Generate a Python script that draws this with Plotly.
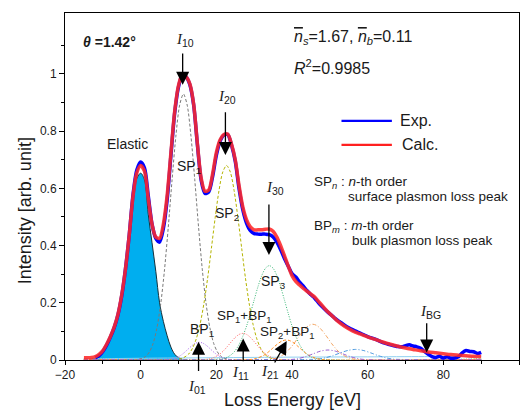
import plotly.graph_objects as go

# ---------------- data ----------------
exp_e = list(range(-12, 91))
exp_i = [0.008, 0.015, 0.03, 0.052, 0.08, 0.113, 0.158, 0.225, 0.32, 0.44, 0.58, 0.665,
         0.692, 0.672, 0.575, 0.475, 0.425, 0.412, 0.46, 0.56, 0.715, 0.865,
         0.955, 0.995, 0.99, 0.962, 0.892, 0.752, 0.628, 0.582, 0.588, 0.64,
         0.715, 0.765, 0.786, 0.788, 0.752, 0.695, 0.60, 0.525, 0.478, 0.452,
         0.442, 0.44, 0.44, 0.44, 0.438, 0.43, 0.412, 0.385, 0.355, 0.328,
         0.302, 0.29, 0.272, 0.258, 0.242, 0.228, 0.216, 0.20, 0.186, 0.173,
         0.161, 0.15, 0.139, 0.13, 0.121, 0.113, 0.106, 0.1, 0.094, 0.088,
         0.082, 0.077, 0.073, 0.067, 0.061, 0.057, 0.053, 0.05, 0.047, 0.046,
         0.05, 0.053, 0.049, 0.046, 0.041, 0.03, 0.02, 0.012, 0.009, 0.013,
         0.007, 0.011, 0.006, 0.007, 0.011, 0.025, 0.033, 0.03, 0.029, 0.023,
         0.027]

calc_e = list(range(-15, 51)) + list(range(52, 91, 2))
calc_i = [0.008, 0.008, 0.009, 0.012, 0.02,
          0.033, 0.055, 0.082, 0.115, 0.16, 0.228, 0.32, 0.44, 0.575, 0.655,
          0.68, 0.66, 0.565, 0.475, 0.43, 0.425, 0.475, 0.575, 0.725, 0.87,
          0.96, 0.998, 0.99, 0.965, 0.895, 0.755, 0.635, 0.59, 0.595, 0.65,
          0.725, 0.77, 0.788, 0.79, 0.755, 0.70, 0.61, 0.535, 0.49, 0.465,
          0.455, 0.455, 0.455, 0.457, 0.458, 0.45, 0.43, 0.40, 0.365, 0.328,
          0.295, 0.275, 0.262, 0.25, 0.24, 0.23, 0.22, 0.205, 0.19, 0.175,
          0.162,
          0.137, 0.117, 0.102, 0.091, 0.081, 0.072, 0.063, 0.055, 0.048, 0.042,
          0.037, 0.032, 0.028, 0.025, 0.022, 0.019, 0.017, 0.015, 0.013, 0.012]

elastic_e = list(range(-13, 12))
elastic_i = [0.003, 0.005, 0.01, 0.025, 0.048, 0.075, 0.105, 0.15, 0.215, 0.31, 0.43, 0.57,
             0.635, 0.653, 0.63, 0.51, 0.41, 0.31, 0.20, 0.135, 0.085, 0.045, 0.02, 0.008, 0.003]

sp1_e = [-15, -0.7, 1.3, 2.3, 3.3, 4.3, 5.3, 6.3, 7.3, 8.3, 9.3, 10.3, 11.3, 12.3, 13.3,
         14.3, 15.3, 16.3, 17.3, 18.3, 19.3, 20.3, 21.3, 23.3, 90]
sp1_i = [0.002, 0.002, 0.012, 0.028, 0.058, 0.112, 0.196, 0.315, 0.465, 0.630, 0.782, 0.891,
         0.93, 0.891, 0.782, 0.630, 0.465, 0.315, 0.196, 0.112, 0.058, 0.028, 0.012, 0.002, 0.002]

sp2_e = [-15, 10.7, 12.7, 13.7, 14.7, 15.7, 16.7, 17.7, 18.7, 19.7, 20.7, 21.7, 22.7, 23.7,
         24.7, 25.7, 26.7, 27.7, 28.7, 29.7, 30.7, 31.7, 32.7, 34.7, 90]
sp2_i = [0.003, 0.005, 0.021, 0.041, 0.074, 0.125, 0.196, 0.286, 0.391, 0.498, 0.592, 0.657,
         0.68, 0.657, 0.592, 0.498, 0.391, 0.286, 0.196, 0.125, 0.074, 0.041, 0.021, 0.005, 0.003]

sp3_e = [-15, 22, 24, 25, 26, 27, 28, 29, 30, 31, 32, 33, 34, 35, 36, 37, 38, 39, 40, 41,
         42, 43, 44, 46, 90]
sp3_i = [0.004, 0.006, 0.019, 0.033, 0.054, 0.083, 0.119, 0.163, 0.210, 0.256, 0.295, 0.321,
         0.33, 0.321, 0.295, 0.256, 0.210, 0.163, 0.119, 0.083, 0.054, 0.033, 0.019, 0.006, 0.004]

sp4_e = [-15, 33.5, 35.5, 37.5, 38.5, 39.5, 40.5, 41.5, 42.5, 43.5, 44.5, 45.5, 46.5, 47.5,
         48.5, 49.5, 50.5, 51.5, 52.5, 53.5, 55.5, 57.5, 90]
sp4_i = [0.002, 0.002, 0.0055, 0.017, 0.027, 0.041, 0.057, 0.076, 0.094, 0.110, 0.121, 0.125,
         0.121, 0.110, 0.094, 0.076, 0.057, 0.041, 0.027, 0.017, 0.0055, 0.002, 0.002]

sp5_e = [-15, 44.8, 46.8, 48.8, 50.8, 52.8, 54.8, 56.8, 58.8, 60.8, 62.8, 64.8, 66.8, 68.8, 90]
sp5_i = [0.002, 0.002, 0.0031, 0.0076, 0.0152, 0.025, 0.0335, 0.037, 0.0335, 0.025, 0.0152,
         0.0076, 0.0031, 0.002, 0.002]

bp1_e = [-15, 7.5, 9.5, 10.5, 11.5, 12.5, 13.5, 14.5, 15.5, 16.5, 17.5, 18.5, 19.5, 20.5,
         21.5, 23.5, 90]
bp1_i = [0.002, 0.002, 0.0084, 0.0154, 0.0255, 0.0376, 0.0496, 0.0587, 0.062, 0.0587, 0.0496,
         0.0376, 0.0255, 0.0154, 0.0084, 0.002, 0.002]

sp1bp1_e = [-15, 17, 19, 21, 22, 23, 24, 25, 26, 27, 28, 29, 30, 31, 32, 33, 35, 37, 90]
sp1bp1_i = [0.0015, 0.0016, 0.0068, 0.0214, 0.0336, 0.0484, 0.0644, 0.079, 0.0893, 0.093,
            0.0893, 0.079, 0.0644, 0.0484, 0.0336, 0.0214, 0.0068, 0.0016, 0.0015]

sp2bp1_e = [-15, 28.5, 30.5, 32.5, 33.5, 34.5, 35.5, 36.5, 37.5, 38.5, 39.5, 40.5, 41.5, 42.5,
            43.5, 44.5, 46.5, 48.5, 90]
sp2bp1_i = [0.001, 0.0012, 0.0051, 0.0161, 0.0253, 0.0365, 0.0484, 0.0594, 0.0672, 0.07,
            0.0672, 0.0594, 0.0484, 0.0365, 0.0253, 0.0161, 0.0051, 0.0012, 0.001]

sp3bp1_e = [-15, 39.5, 41.5, 43.5, 45.5, 47.5, 49.5, 51.5, 53.5, 55.5, 57.5, 59.5, 90]
sp3bp1_i = [0.001, 0.0015, 0.0047, 0.0114, 0.0212, 0.0309, 0.035, 0.0309, 0.0212, 0.0114,
            0.0047, 0.0015, 0.001]

bg_e = [-15, 0, 20, 40, 60, 75, 90]
bg_i = [0.004, 0.006, 0.008, 0.010, 0.011, 0.012, 0.012]

x_ticks = [-20, 0, 20, 40, 60, 80, 100]
y_ticks = [0, 0.2, 0.4, 0.6, 0.8, 1]
y_tick_text = ["0", "0.2", "0.4", "0.6", "0.8", "1"]

# ---------------- figure ----------------
FONT = "Liberation Sans, Arial, sans-serif"
TXT = "#1a1a1a"

fig = go.Figure()

fig.add_trace(go.Scatter(x=elastic_e, y=elastic_i, mode="lines", fill="tozeroy",
                         fillcolor="#00aeef", line=dict(color="#15303a", width=1, shape="spline"),
                         hoverinfo="skip"))

components = [
    (bg_e, bg_i, "#8fd0f0", "solid"),
    (sp1_e, sp1_i, "#7a7a7a", "3px,2px"),
    (sp2_e, sp2_i, "#b4b400", "3px,2px"),
    (sp3_e, sp3_i, "#3cb878", "1px,1.5px"),
    (sp4_e, sp4_i, "#f4a460", "4px,2px,1px,2px"),
    (sp5_e, sp5_i, "#4f9be0", "4px,2px,1px,2px"),
    (bp1_e, bp1_i, "#b070f0", "1px,1.5px"),
    (sp1bp1_e, sp1bp1_i, "#ff6a6a", "1px,1.5px"),
    (sp2bp1_e, sp2bp1_i, "#ff8c1a", "3px,2px"),
    (sp3bp1_e, sp3bp1_i, "#9a60d0", "4px,2px,1px,2px"),
]
for ce, ci, col, dash in components:
    fig.add_trace(go.Scatter(x=ce, y=ci, mode="lines",
                             line=dict(color=col, width=1, dash=dash, shape="spline", smoothing=0.8),
                             hoverinfo="skip"))

fig.add_trace(go.Scatter(x=exp_e, y=exp_i, mode="lines", name="Exp.",
                         line=dict(color="#0000ff", width=3.5, shape="spline", smoothing=0.8)))
fig.add_trace(go.Scatter(x=calc_e, y=calc_i, mode="lines", name="Calc.",
                         line=dict(color="rgba(255,40,40,0.88)", width=3.5, shape="spline", smoothing=0.8)))

ann = []


def label(x, y, text, size=14, xanchor="left", xref="x", yref="y"):
    ann.append(dict(x=x, y=y, xref=xref, yref=yref, text=text, showarrow=False,
                    xanchor=xanchor, yanchor="middle",
                    font=dict(family=FONT, size=size, color=TXT)))


def arrow(x, y, ax, ay):
    ann.append(dict(x=x, y=y, ax=ax, ay=ay, xref="x", yref="y", axref="x", ayref="y",
                    text="", showarrow=True, arrowhead=2, arrowsize=2.0, arrowwidth=1.3,
                    arrowcolor="#000000", standoff=0, startstandoff=0))


def ilabel(x, y, sub, xref="x", yref="y"):
    label(x, y, "<span style='font-family:Liberation Serif'><i>I</i></span><sub>%s</sub>" % sub,
          size=15, xanchor="center", xref=xref, yref=yref)


# peak intensities
ilabel(11.6, 1.119, "10"); arrow(11.1, 0.962, 11.1, 1.077)
ilabel(22.75, 0.92, "20"); arrow(22.4, 0.717, 22.4, 0.871)
ilabel(35.4, 0.60, "30"); arrow(33.9, 0.367, 33.9, 0.549)
ilabel(0.2907, -0.078, "01", xref="paper", yref="paper"); arrow(15.3, 0.064, 15.3, -0.044)
ilabel(0.3855, -0.0375, "11", xref="paper", yref="paper"); arrow(27.1, 0.075, 27.1, -0.01)
ilabel(0.4515, -0.0346, "21", xref="paper", yref="paper"); arrow(38.6, 0.066, 35.2, -0.014)
ilabel(76.5, 0.169, "BG"); arrow(75.6, 0.026, 75.6, 0.134)

# peak names
label(-3.6, 0.755, "Elastic", size=14, xanchor="center")
label(9.0, 0.676, "SP<sub>1</sub>")
label(19.05, 0.509, "SP<sub>2</sub>")
label(31.2, 0.274, "SP<sub>3</sub>")
label(12.4, 0.105, "BP<sub>1</sub>")
label(19.6, 0.153, "SP<sub>1</sub>+BP<sub>1</sub>", size=13.5)
label(31.0, 0.097, "SP<sub>2</sub>+BP<sub>1</sub>", size=13.5)

# texts in paper coords
label(0.0346, 0.917, "<b><i>θ</i> =1.42°</b>", size=14, xref="paper", yref="paper")
label(0.50, 0.928, "<span style='text-decoration:overline'><i>n</i></span><sub><i>s</i></sub>=1.67, "
                   "<span style='text-decoration:overline'><i>n</i></span><sub><i>b</i></sub>=0.11",
      size=16, xref="paper", yref="paper")
label(0.50, 0.845, "<i>R</i><sup>2</sup>=0.9985", size=16, xref="paper", yref="paper")
label(0.733, 0.689, "Exp.", size=16, xref="paper", yref="paper")
label(0.738, 0.620, "Calc.", size=16, xref="paper", yref="paper")
label(0.543, 0.511, "SP<sub><i>n</i></sub> : <i>n</i>-th order", size=13.5, xref="paper", yref="paper")
label(0.620, 0.471, "surface plasmon loss peak", size=13.5, xref="paper", yref="paper")
label(0.543, 0.384, "BP<sub><i>m</i></sub> : <i>m</i>-th order", size=13.5, xref="paper", yref="paper")
label(0.628, 0.343, "bulk plasmon loss peak", size=13.5, xref="paper", yref="paper")

# axis titles
ann.append(dict(x=-0.088, y=0.429, xref="paper", yref="paper", text="Intensity [arb. unit]",
                showarrow=False, textangle=-90, xanchor="center", yanchor="middle",
                font=dict(family=FONT, size=18, color=TXT)))
ann.append(dict(x=0.5, y=-0.115, xref="paper", yref="paper", text="Loss Energy [eV]",
                showarrow=False, xanchor="center", yanchor="middle",
                font=dict(family=FONT, size=18, color=TXT)))

shapes = [
    dict(type="line", xref="paper", yref="paper", x0=0.609, x1=0.72, y0=0.689, y1=0.689,
         line=dict(color="#0000ff", width=2.2)),
    dict(type="line", xref="paper", yref="paper", x0=0.609, x1=0.72, y0=0.620, y1=0.620,
         line=dict(color="#ff2020", width=2.2)),
]

fig.update_layout(
    width=528, height=412,
    margin=dict(l=65, r=9, t=13, b=52),
    paper_bgcolor="white", plot_bgcolor="white",
    showlegend=False,
    annotations=ann, shapes=shapes,
    font=dict(family=FONT, color=TXT),
)
fig.update_xaxes(range=[-20, 100], tickmode="array", tickvals=x_ticks,
                 ticks="outside", ticklen=4, tickcolor="black",
                 minor=dict(tickvals=[-10, 10, 30, 50, 70, 90], ticks="outside", ticklen=3, tickcolor="black"),
                 showline=True, linecolor="black", linewidth=1, mirror=True,
                 showgrid=False, zeroline=False, tickfont=dict(size=12, color=TXT))
fig.update_yaxes(range=[0, 1.213], tickmode="array", tickvals=y_ticks, ticktext=y_tick_text,
                 ticks="outside", ticklen=5, tickcolor="black",
                 minor=dict(tickvals=[0.1, 0.3, 0.5, 0.7, 0.9, 1.1], ticks="outside", ticklen=3, tickcolor="black"),
                 showline=True, linecolor="black", linewidth=1, mirror=True,
                 showgrid=False, zeroline=False, tickfont=dict(size=12, color=TXT))

fig.write_html("out.html", config={"displayModeBar": False},
               post_script="document.body.style.margin='0';document.body.style.overflow='hidden';")
